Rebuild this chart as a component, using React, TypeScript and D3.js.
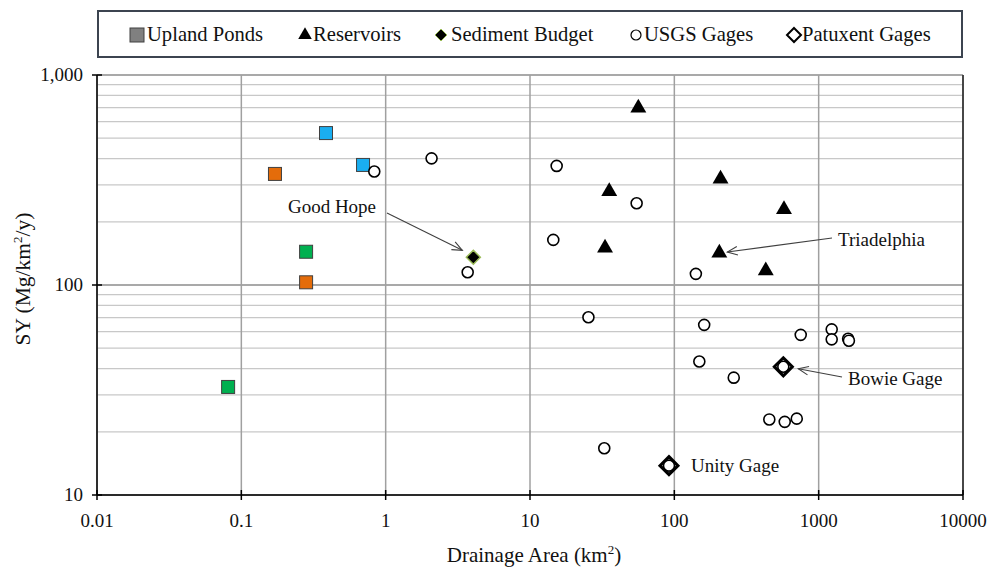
import React from "react";
import * as d3 from "d3";

// ---- Data ----
const pondArea = [0.386, 0.697, 0.171, 0.281, 0.281, 0.081];
const pondSY = [529, 373, 338, 144, 103, 32.7];
const pondGroup = ["A", "A", "B", "C", "B", "C"];

const reservoirArea = [56.3, 35.4, 33.1, 209, 575, 205, 430];
const reservoirSY = [697, 279, 150, 320, 229, 142, 117];

const sedimentArea = [4.05];
const sedimentSY = [135.5];

const usgsArea = [0.834, 2.08, 3.7, 15.3, 54.8, 14.5, 141, 25.4, 32.7, 161, 751, 1231, 1231, 1600, 1620, 149, 258, 455, 582, 705, 569, 91.8];
const usgsSY = [347, 401, 115, 369, 245, 164, 113, 70.2, 16.7, 64.6, 57.9, 61.5, 55.1, 55.5, 54.3, 43.2, 36.2, 22.9, 22.3, 23.1, 40.8, 13.8];

const patuxentArea = [569, 91.8];
const patuxentSY = [40.8, 13.8];

const xTicks = [0.01, 0.1, 1, 10, 100, 1000, 10000];
const xTickLabels = ["0.01", "0.1", "1", "10", "100", "1000", "10000"];
const yTicks = [10, 100, 1000];
const yTickLabels = ["10", "100", "1,000"];

const legendItems = ["Upland Ponds", "Reservoirs", "Sediment Budget", "USGS Gages", "Patuxent Gages"];

const W = 991, H = 570;
const M = { left: 97, right: 963, top: 75, bottom: 495 };
const FONT = "'Liberation Serif', 'Times New Roman', serif";
const pondColor: Record<string, string> = { A: "#1aaef0", B: "#e46c0a", C: "#00b050" };

export default function App() {
  const x = d3.scaleLog().domain([0.01, 10000]).range([M.left, M.right]);
  const y = d3.scaleLog().domain([10, 1000]).range([M.bottom, M.top]);

  const minorY: number[] = [];
  for (const dec of [10, 100]) for (let k = 2; k <= 9; k++) minorY.push(dec * k);

  const tri = d3.symbol().type(d3.symbolTriangle).size(110)();
  const triLeg = d3.symbol().type(d3.symbolTriangle).size(80)();

  const arrowHead = (x1: number, y1: number, x2: number, y2: number) => {
    const a = Math.atan2(y2 - y1, x2 - x1);
    const L = 11, s = 0.4;
    const p1 = [x2 - L * Math.cos(a - s), y2 - L * Math.sin(a - s)];
    const p2 = [x2 - L * Math.cos(a + s), y2 - L * Math.sin(a + s)];
    return `M${p1[0]},${p1[1]}L${x2},${y2}L${p2[0]},${p2[1]}`;
  };

  const gh = { x: x(sedimentArea[0]), y: y(sedimentSY[0]) };
  const tr = { x: x(reservoirArea[5]), y: y(reservoirSY[5]) };
  const bw = { x: x(patuxentArea[0]), y: y(patuxentSY[0]) };
  const un = { x: x(patuxentArea[1]), y: y(patuxentSY[1]) };

  const annFont = 19;

  return (
    <svg width={W} height={H} style={{ position: "absolute", left: 0, top: 0, background: "#fff" }} fontFamily={FONT}>
      {/* legend */}
      <rect x={98} y={11} width={864} height={46} fill="#fff" stroke="#3c4450" strokeWidth={2} />
      <g fontSize={20.6} fill="#111">
        <rect x={130} y={28} width={14} height={14} fill="#808080" stroke="#404040" strokeWidth={1} />
        <text x={147} y={41}>{legendItems[0]}</text>
        <path d={triLeg} transform="translate(305,35)" fill="#000" />
        <text x={313} y={41}>{legendItems[1]}</text>
        <path d="M441,29L447,35L441,41L435,35Z" fill="#000" stroke="#9bbb59" strokeWidth={1} />
        <text x={451} y={41}>{legendItems[2]}</text>
        <circle cx={636} cy={35} r={5} fill="#fff" stroke="#000" strokeWidth={1.2} />
        <text x={644} y={41}>{legendItems[3]}</text>
        <path d="M794,28L801,35L794,42L787,35Z" fill="#fff" stroke="#000" strokeWidth={2} />
        <text x={802} y={41}>{legendItems[4]}</text>
      </g>

      {/* minor horizontal grid */}
      {minorY.map((v) => (
        <line key={"my" + v} x1={M.left} x2={M.right} y1={y(v)} y2={y(v)} stroke="#c8c8c8" strokeWidth={1.3} />
      ))}
      {/* major horizontal grid */}
      {yTicks.map((v) => (
        <line key={"gy" + v} x1={M.left} x2={M.right} y1={y(v)} y2={y(v)} stroke="#8c8c8c" strokeWidth={1.3} />
      ))}
      {/* vertical grid */}
      {xTicks.map((v) => (
        <line key={"gx" + v} x1={x(v)} x2={x(v)} y1={M.top} y2={M.bottom} stroke="#a0a0a0" strokeWidth={1.5} />
      ))}
      {/* axes */}
      <line x1={M.left} x2={M.left} y1={M.top} y2={M.bottom} stroke="#000" strokeWidth={1.5} />
      <line x1={M.right} x2={M.right} y1={M.top} y2={M.bottom} stroke="#222" strokeWidth={1.5} />
      <line x1={M.left} x2={M.right} y1={M.bottom} y2={M.bottom} stroke="#000" strokeWidth={1.5} />
      {xTicks.map((v, i) => (
        <g key={"xt" + v}>
          <line x1={x(v)} x2={x(v)} y1={M.bottom - 5} y2={M.bottom + 5} stroke="#000" strokeWidth={1.5} />
          <text x={x(v)} y={527} textAnchor="middle" fontSize={19} fill="#111">{xTickLabels[i]}</text>
        </g>
      ))}
      {yTicks.map((v, i) => (
        <g key={"yt" + v}>
          <line x1={M.left - 5} x2={M.left + 5} y1={y(v)} y2={y(v)} stroke="#000" strokeWidth={1.5} />
          <text x={83} y={y(v) + 6} textAnchor="end" fontSize={19} fill="#111">{yTickLabels[i]}</text>
        </g>
      ))}

      {/* axis titles */}
      <text x={534} y={562} textAnchor="middle" fontSize={21} fill="#111">
        Drainage Area (km<tspan fontSize={13} dy={-8}>2</tspan><tspan dy={8}>)</tspan>
      </text>
      <text transform={`translate(30,${279}) rotate(-90)`} textAnchor="middle" fontSize={21.5} fill="#111">
        SY (Mg/km<tspan fontSize={13} dy={-8}>2</tspan><tspan dy={8}>/y)</tspan>
      </text>

      {/* annotations */}
      <g stroke="#404040" strokeWidth={1.1} fill="none">
        <line x1={387} y1={213} x2={gh.x - 11} y2={gh.y - 7} />
        <path d={arrowHead(387, 213, gh.x - 11, gh.y - 7)} />
        <line x1={832} y1={238} x2={tr.x + 8} y2={tr.y - 1} />
        <path d={arrowHead(832, 238, tr.x + 8, tr.y - 1)} />
        <line x1={842} y1={377} x2={bw.x + 15} y2={bw.y + 2} />
        <path d={arrowHead(842, 377, bw.x + 15, bw.y + 2)} />
      </g>
      <g fontSize={annFont} fill="#111">
        <text x={332} y={213} textAnchor="middle">Good Hope</text>
        <text x={838} y={246}>Triadelphia</text>
        <text x={848} y={385}>Bowie Gage</text>
        <text x={un.x + 22} y={un.y + 6}>Unity Gage</text>
      </g>

      {/* upland ponds */}
      {pondArea.map((a, i) => (
        <rect key={"p" + i} x={x(a) - 6.5} y={y(pondSY[i]) - 6.5} width={13} height={13}
          fill={pondColor[pondGroup[i]]} stroke="#404040" strokeWidth={1} />
      ))}
      {/* USGS gages */}
      {usgsArea.map((a, i) => (
        <circle key={"u" + i} cx={x(a)} cy={y(usgsSY[i])} r={5.5} fill="#fff" stroke="#000" strokeWidth={1.6} />
      ))}
      {/* reservoirs */}
      {reservoirArea.map((a, i) => (
        <path key={"r" + i} d={tri!} transform={`translate(${x(a)},${y(reservoirSY[i])})`} fill="#000" />
      ))}
      {/* sediment budget */}
      {sedimentArea.map((a, i) => {
        const cx = x(a), cy = y(sedimentSY[i]);
        return <path key={"s" + i} d={`M${cx},${cy - 7}L${cx + 7},${cy}L${cx},${cy + 7}L${cx - 7},${cy}Z`} fill="#000" stroke="#9bbb59" strokeWidth={1.5} />;
      })}
      {/* Patuxent gages */}
      {patuxentArea.map((a, i) => {
        const cx = x(a), cy = y(patuxentSY[i]);
        return <path key={"pg" + i} d={`M${cx},${cy - 9}L${cx + 9},${cy}L${cx},${cy + 9}L${cx - 9},${cy}Z`} fill="none" stroke="#000" strokeWidth={3} />;
      })}
    </svg>
  );
}
